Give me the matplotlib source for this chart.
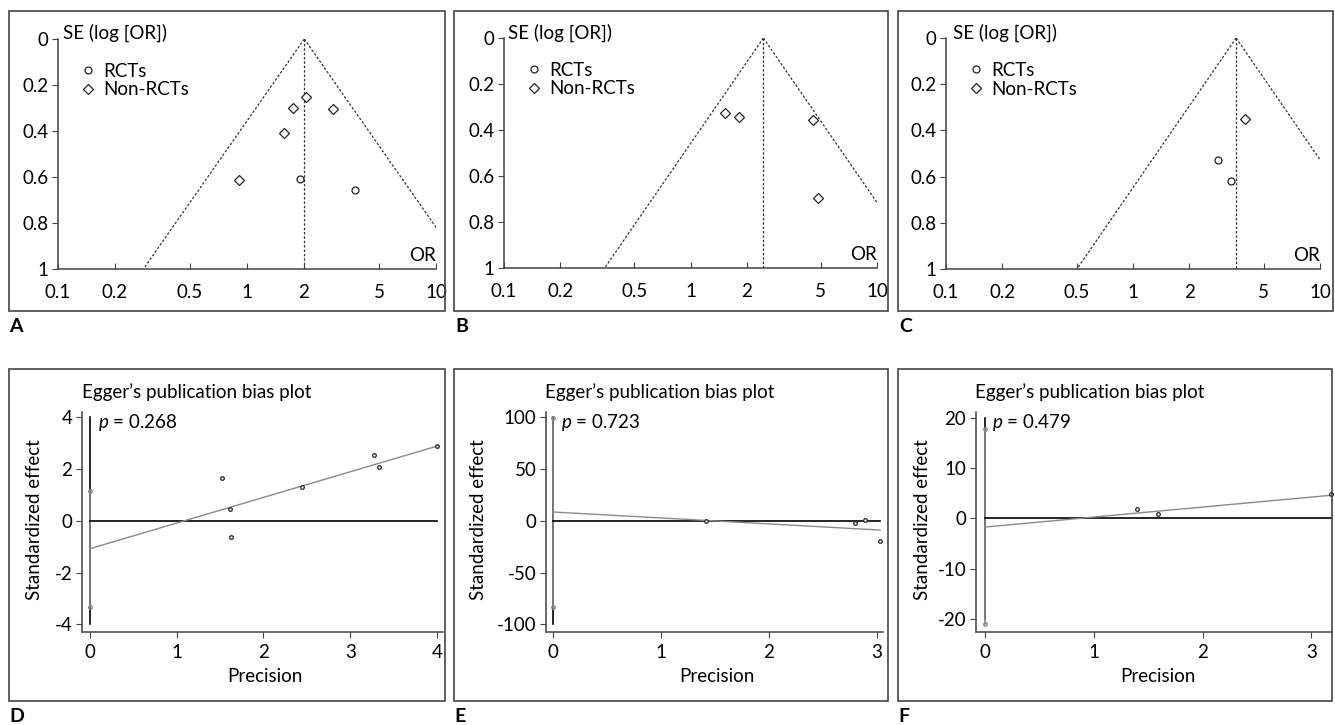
import numpy as np
import matplotlib
matplotlib.use('Agg')
import matplotlib.pyplot as plt
from matplotlib.lines import Line2D
from matplotlib.patches import Rectangle

plt.rcParams['font.family'] = ['Lato', 'DejaVu Sans']
plt.rcParams['axes.unicode_minus'] = False
plt.rcParams['mathtext.fontset'] = 'custom'
plt.rcParams['mathtext.it'] = 'Lato:italic'
plt.rcParams['mathtext.rm'] = 'Lato'

# ---- funnel plots (A-C) ----
funnel_pooled = [2.01, 2.46, 3.56]
a_rct_or = [1.91, 3.74]
a_rct_se = [0.610, 0.657]
a_non_or = [2.05, 1.75, 2.84, 1.57, 0.908]
a_non_se = [0.252, 0.302, 0.304, 0.409, 0.613]
b_rct_or = []
b_rct_se = []
b_non_or = [1.53, 1.82, 4.55, 4.82]
b_non_se = [0.326, 0.342, 0.355, 0.696]
c_rct_or = [2.84, 3.36]
c_rct_se = [0.526, 0.619]
c_non_or = [3.96]
c_non_se = [0.351]
or_ticks = [0.1, 0.2, 0.5, 1, 2, 5, 10]
or_labels = ['0.1', '0.2', '0.5', '1', '2', '5', '10']
se_ticks = [0, 0.2, 0.4, 0.6, 0.8, 1]
se_labels = ['0', '0.2', '0.4', '0.6', '0.8', '1']

# ---- Egger plots (D-F) ----
d_prec = [1.52, 1.62, 1.63, 2.44, 3.27, 3.33, 4.0]
d_eff = [1.65, 0.47, -0.63, 1.33, 2.54, 2.10, 2.89]
d_fit = (-1.07, 0.99)       # intercept, slope
d_ci = (-3.31, 1.14)
e_prec = [1.42, 2.80, 2.89, 3.03]
e_eff = [-0.5, -2.1, 0.5, -19.5]
e_fit = (8.5, -5.75)
e_ci = (-83, 99.5)
f_prec = [1.40, 1.59, 3.18]
f_eff = [1.78, 0.91, 4.8]
f_fit = (-1.7, 1.98)
f_ci = (-21, 17.8)
p_values = ['0.268', '0.723', '0.479']

W, H = 1335, 725
fig = plt.figure(figsize=(W / 100, H / 100), dpi=100)
EDGE = '#444444'
FS = 13.5


def add_ax(l, t, r, b):
    return fig.add_axes([l / W, 1 - b / H, (r - l) / W, (b - t) / H])


def ftext(x, y, s, **kw):
    fig.text(x / W, 1 - y / H, s, **kw)


def frame(l, t, r, b):
    fig.add_artist(Rectangle((l / W, 1 - b / H), (r - l) / W, (b - t) / H,
                             transform=fig.transFigure, fill=False,
                             edgecolor=EDGE, lw=1.2))


def style_ax(ax):
    for s in ['top', 'right']:
        ax.spines[s].set_visible(False)
    for s in ['left', 'bottom']:
        ax.spines[s].set_color(EDGE)
        ax.spines[s].set_linewidth(1.1)
    ax.set_facecolor('none')


def funnel(ax, pooled, rct_or, rct_se, non_or, non_se):
    style_ax(ax)
    se = np.array([0.0, 1.0])
    lo = np.exp(np.log(pooled) - 1.96 * se)
    hi = np.exp(np.log(pooled) + 1.96 * se)
    kw = dict(color='#333333', lw=0.9, dashes=(2, 1.5))
    ax.plot(lo, se, **kw)
    ax.plot(hi, se, **kw)
    ax.plot([pooled, pooled], se, **kw)
    ax.plot(rct_or, rct_se, 'o', ms=5, mfc='white', mec='#222222', mew=0.9, clip_on=False)
    ax.plot(non_or, non_se, 'D', ms=5, mfc='white', mec='#222222', mew=0.9, clip_on=False)
    ax.set_xscale('log')
    ax.set_xlim(0.1, 10)
    ax.set_ylim(1, 0)
    ax.set_xticks(or_ticks)
    ax.set_xticklabels(or_labels)
    ax.minorticks_off()
    ax.set_yticks(se_ticks)
    ax.set_yticklabels(se_labels)
    ax.tick_params(axis='x', direction='in', length=4, pad=11, labelsize=FS, color=EDGE)
    ax.tick_params(axis='y', direction='out', length=4, pad=3, labelsize=FS, color=EDGE)
    handles = [Line2D([], [], marker='o', ls='', ms=5, mfc='white', mec='#222222', mew=0.9),
               Line2D([], [], marker='D', ls='', ms=5, mfc='white', mec='#222222', mew=0.9)]
    ax.legend(handles, ['RCTs', 'Non-RCTs'], loc='upper left', bbox_to_anchor=(0.04, 0.93),
              frameon=False, fontsize=FS, handlelength=0.8, handletextpad=0.4,
              labelspacing=0.1, borderaxespad=0)
    ax.text(1.0, 0.06, 'OR', transform=ax.transAxes, ha='right', va='center', fontsize=FS)


def egger(ax, prec, eff, fit, ci, ytop, pval):
    style_ax(ax)
    ax.plot([0, 0], [-ytop, ytop], color='black', lw=1.2)
    ax.plot([0, 0], ci, color='#888888', lw=1.2, marker='o', ms=2.5, mfc='none', mec='#888888')
    ax.plot([0, max(prec)], [0, 0], color='black', lw=1.2)
    xs = np.array([0, max(prec)])
    ax.plot(xs, fit[0] + fit[1] * xs, color='#8a8a8a', lw=1.0)
    ax.plot(prec, eff, 'o', ms=2.6, mfc='white', mec='#222222', mew=0.9, clip_on=False)
    ax.tick_params(direction='out', length=4, labelsize=FS, color=EDGE)
    ax.tick_params(axis='x', pad=5)
    ax.tick_params(axis='y', pad=3)
    ax.text(0.045, 1.0, r'$\it{p}$ = ' + pval, transform=ax.transAxes, ha='left', va='top', fontsize=FS)


# panel frames and labels
frames = [(9, 11, 445, 311), (454, 11, 888, 311), (898, 11, 1333, 311),
          (9, 369, 445, 701), (454, 369, 888, 701), (898, 369, 1332, 701)]
for f in frames:
    frame(*f)
for lab, x, y in [('A', 9, 326), ('B', 455, 326), ('C', 899, 326),
                  ('D', 9, 717), ('E', 454, 717), ('F', 898, 717)]:
    ftext(x, y, lab, fontsize=14, fontweight='bold', ha='left', va='center')

# funnel axes
axA = add_ax(58, 39, 436, 269)
axB = add_ax(504, 38, 877, 268)
axC = add_ax(946, 38, 1320, 269)
funnel(axA, funnel_pooled[0], a_rct_or, a_rct_se, a_non_or, a_non_se)
funnel(axB, funnel_pooled[1], b_rct_or, b_rct_se, b_non_or, b_non_se)
funnel(axC, funnel_pooled[2], c_rct_or, c_rct_se, c_non_or, c_non_se)
for x in [63, 508, 953]:
    ftext(x, 33, 'SE (log [OR])', fontsize=FS, ha='left', va='center')

# Egger axes
axD = add_ax(82, 412, 443, 632)
axE = add_ax(546, 412, 883, 632)
axF = add_ax(976, 412, 1332, 632)
egger(axD, d_prec, d_eff, d_fit, d_ci, 4, p_values[0])
egger(axE, e_prec, e_eff, e_fit, e_ci, 100, p_values[1])
egger(axF, f_prec, f_eff, f_fit, f_ci, 20, p_values[2])
axD.set_xlim(-0.092, 4.07)
axD.set_ylim(-4.29, 4.21)
axD.set_xticks([0, 1, 2, 3, 4])
axD.set_yticks([-4, -2, 0, 2, 4])
axE.set_xlim(-0.065, 3.056)
axE.set_ylim(-107.4, 105.1)
axE.set_xticks([0, 1, 2, 3])
axE.set_yticks([-100, -50, 0, 50, 100])
axF.set_xlim(-0.083, 3.19)
axF.set_ylim(-22.5, 21.1)
axF.set_xticks([0, 1, 2, 3])
axF.set_yticks([-20, -10, 0, 10, 20])

for x in [82, 545, 975]:
    ftext(x, 392, 'Egger\u2019s publication bias plot', fontsize=FS, ha='left', va='center')
for x in [35, 479, 922]:
    ftext(x, 520, 'Standardized effect', fontsize=FS, ha='center', va='center', rotation=90)
for x in [265, 717, 1158]:
    ftext(x, 677, 'Precision', fontsize=FS, ha='center', va='center')

fig.savefig('out.png', dpi=100)
